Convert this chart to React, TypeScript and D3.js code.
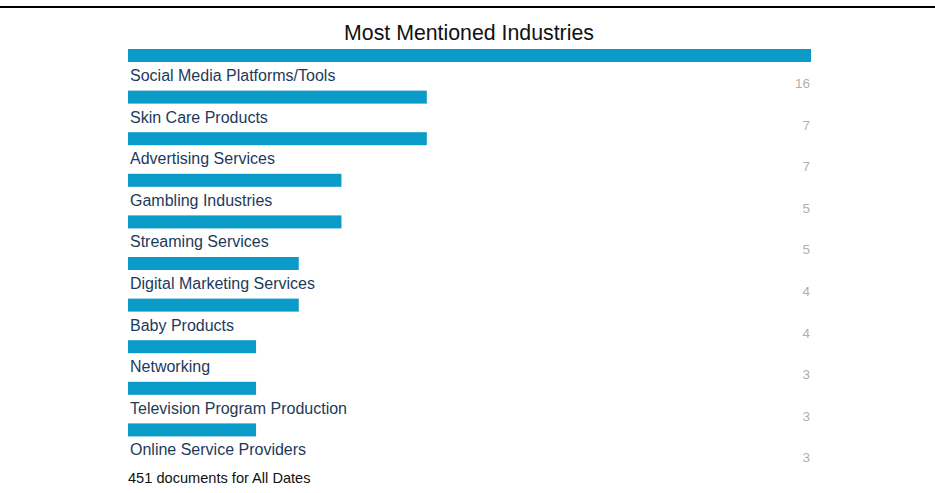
import React from "react";
import * as d3 from "d3";

const industries = [
  "Social Media Platforms/Tools",
  "Skin Care Products",
  "Advertising Services",
  "Gambling Industries",
  "Streaming Services",
  "Digital Marketing Services",
  "Baby Products",
  "Networking",
  "Television Program Production",
  "Online Service Providers",
];
const mentions = [16, 7, 7, 5, 5, 4, 4, 3, 3, 3];
const title = "Most Mentioned Industries";
const footer = "451 documents for All Dates";

export default function App() {
  const W = 935, H = 493;
  const x = d3.scaleLinear().domain([0, 16]).range([128, 811]);
  const y = d3.scaleBand<number>().domain(d3.range(industries.length)).range([49, 465]).paddingInner(0);
  const barH = 13;
  return (
    <svg width={W} height={H} style={{ position: "absolute", left: 0, top: 0, fontFamily: "'Liberation Sans', Arial, sans-serif" }}>
      <rect x={0} y={0} width={W} height={H} fill="#fff" />
      <line x1={0} x2={W} y1={7} y2={7} stroke="#000" strokeWidth={2} />
      <text x={469} y={40} textAnchor="middle" fontSize={21.3} fill="#111">{title}</text>
      {industries.map((name, i) => (
        <g key={name}>
          <rect x={x(0)} y={y(i)!} width={x(mentions[i]) - x(0)} height={barH} fill="#0a9bc8" />
          <text x={130} y={y(i)! + 32} fontSize={16} fill="#1d3a5c">{name}</text>
          <text x={810} y={y(i)! + 39} fontSize={13.5} fill="#b0b0b0" textAnchor="end">{mentions[i]}</text>
        </g>
      ))}
      <text x={128} y={483} fontSize={14.6} fill="#111">{footer}</text>
    </svg>
  );
}
